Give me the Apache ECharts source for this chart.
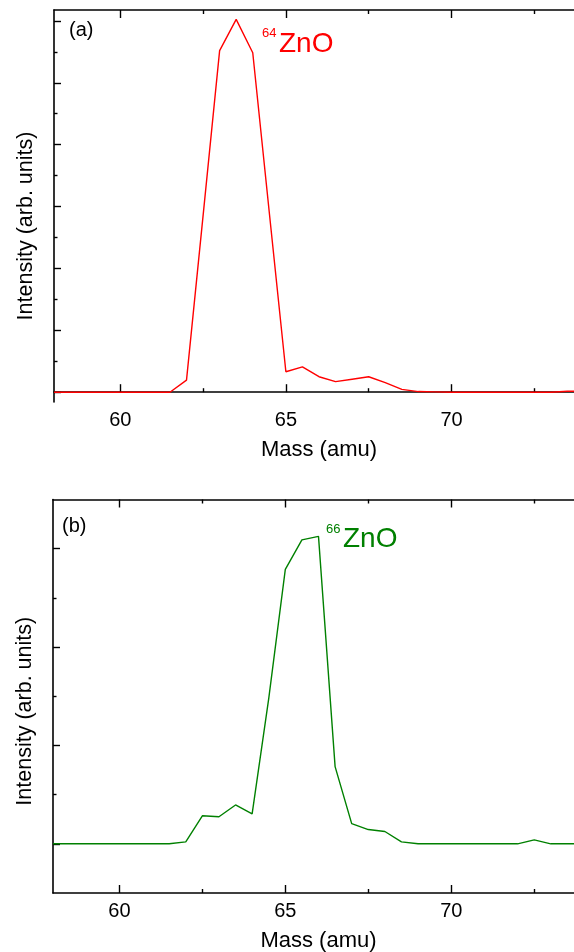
<!DOCTYPE html>
<html>
<head>
<meta charset="utf-8">
<script src="https://cdn.jsdelivr.net/npm/echarts@6/dist/echarts.min.js"></script>
<style>
html,body{margin:0;padding:0;background:#fff;}
#c{width:574px;height:952px;}
</style>
</head>
<body>
<div id="c"></div>
<script>
// ---- data ----
var massA = [58, 58.5, 59, 59.5, 60, 60.5, 61, 61.5, 62, 62.5, 63, 63.5, 64, 64.5, 65, 65.5, 66, 66.5, 67, 67.5, 68, 68.5, 69, 69.5, 70, 70.5, 71, 71.5, 72, 72.5, 73, 73.5, 74];
var intensityA = [0, 0, 0, 0, 0, 0, 0, 0, 0.39, 5.7, 11.04, 12.05, 10.97, 5.8, 0.66, 0.82, 0.50, 0.34, 0.42, 0.50, 0.31, 0.09, 0.02, 0.01, 0, 0, 0, 0, 0, 0, 0, 0.03, 0.03];
var massB = [58, 58.5, 59, 59.5, 60, 60.5, 61, 61.5, 62, 62.5, 63, 63.5, 64, 64.5, 65, 65.5, 66, 66.5, 67, 67.5, 68, 68.5, 69, 69.5, 70, 70.5, 71, 71.5, 72, 72.5, 73, 73.5, 74];
var intensityB = [1, 1, 1, 1, 1, 1, 1, 1, 1.04, 1.57, 1.55, 1.79, 1.61, 3.95, 6.58, 7.18, 7.25, 2.57, 1.41, 1.29, 1.25, 1.04, 1, 1, 1, 1, 1, 1, 1, 1.08, 1, 1, 1];
var xMajorTicks = [60, 65, 70];
var xMinorTicks = [62.5, 67.5, 72.5];
var yMajorTicksA = [0, 2, 4, 6, 8, 10, 12];
var yMinorTicksA = [1, 3, 5, 7, 9, 11];
var yMajorTicksB = [1, 3, 5, 7];
var yMinorTicksB = [2, 4, 6];
var xTitle = 'Mass (amu)';
var yTitle = 'Intensity (arb. units)';
var panelLabels = ['(a)', '(b)'];
var peakLabels = [['64', 'ZnO'], ['66', 'ZnO']];
var colors = ['#ff0000', '#008000'];

function pairs(xs, ys) { return xs.map(function (x, i) { return [x, ys[i]]; }); }

var FONT = 'Liberation Sans, Arial, sans-serif';
var axisLineStyle = { show: true, lineStyle: { color: '#000', width: 1.6 } };

function xAxes(grid, pos, major, withLabels) {
  var base = {
    gridIndex: grid, type: 'value', position: pos, min: 58, max: 74,
    splitLine: { show: false }
  };
  var a = Object.assign({}, base, {
    axisLine: axisLineStyle,
    axisTick: { show: true, inside: true, length: 8, customValues: xMajorTicks, lineStyle: { color: '#000', width: 1.4 } },
    axisLabel: withLabels ? { show: true, customValues: xMajorTicks, color: '#000', fontSize: 20, fontFamily: FONT, margin: 8 } : { show: false }
  });
  if (withLabels) {
    a.name = xTitle; a.nameLocation = 'middle'; a.nameGap = 37;
    a.nameTextStyle = { color: '#000', fontSize: 22, fontFamily: FONT };
  }
  var b = Object.assign({}, base, {
    axisLine: { show: false },
    axisTick: { show: true, inside: true, length: 4, customValues: xMinorTicks, lineStyle: { color: '#000', width: 1.4 } },
    axisLabel: { show: false }
  });
  return [a, b];
}

function yAxes(grid, mn, mx, major, minor, shift) {
  var a = {
    gridIndex: grid, type: 'value', position: 'left', min: mn, max: mx,
    splitLine: { show: false },
    axisLine: axisLineStyle,
    axisTick: { show: true, inside: true, length: 7, customValues: major, lineStyle: { color: '#000', width: 1.4 } },
    axisLabel: { show: false },
    name: yTitle, nameLocation: 'middle', nameGap: 17,
    nameTextStyle: { color: '#000', fontSize: 21.5, fontFamily: FONT, padding: [0, shift, 0, 0] }
  };
  var b = {
    gridIndex: grid, type: 'value', position: 'left', min: mn, max: mx,
    splitLine: { show: false },
    axisLine: { show: false },
    axisTick: { show: true, inside: true, length: 3.5, customValues: minor, lineStyle: { color: '#000', width: 1.4 } },
    axisLabel: { show: false }
  };
  return [a, b];
}

var xs = [].concat(
  xAxes(0, 'bottom', true, true), xAxes(0, 'top', true, false),
  xAxes(1, 'bottom', true, true), xAxes(1, 'top', true, false)
);
var ys = [].concat(
  yAxes(0, -0.317, 12.353, yMajorTicksA, yMinorTicksA, 40),
  yAxes(1, 0, 8, yMajorTicksB, yMinorTicksB, 30)
);

var chart = echarts.init(document.getElementById('c'), null, { renderer: 'canvas' });
chart.setOption({
  animation: false,
  backgroundColor: '#ffffff',
  grid: [
    { left: 54, top: 10, width: 530, height: 392, outerBoundsMode: 'none', containLabel: false },
    { left: 53, top: 499.5, width: 531, height: 393.5, outerBoundsMode: 'none', containLabel: false }
  ],
  xAxis: xs,
  yAxis: ys,
  series: [
    { type: 'line', xAxisIndex: 0, yAxisIndex: 0, data: pairs(massA, intensityA), showSymbol: false,
      lineStyle: { color: colors[0], width: 1.4 }, itemStyle: { color: colors[0] } },
    { type: 'line', xAxisIndex: 4, yAxisIndex: 2, data: pairs(massB, intensityB), showSymbol: false,
      lineStyle: { color: colors[1], width: 1.4 }, itemStyle: { color: colors[1] } }
  ],
  graphic: [
    { type: 'text', x: 69, y: 30, style: { text: panelLabels[0], font: '20px ' + FONT, fill: '#000', verticalAlign: 'middle' } },
    { type: 'text', x: 62, y: 526, style: { text: panelLabels[1], font: '20px ' + FONT, fill: '#000', verticalAlign: 'middle' } },
    { type: 'text', x: 262, y: 33.5, style: { text: peakLabels[0][0], font: '13px ' + FONT, fill: colors[0], verticalAlign: 'middle' } },
    { type: 'text', x: 279, y: 44, style: { text: peakLabels[0][1], font: '28px ' + FONT, fill: colors[0], verticalAlign: 'middle' } },
    { type: 'text', x: 326, y: 529, style: { text: peakLabels[1][0], font: '13px ' + FONT, fill: colors[1], verticalAlign: 'middle' } },
    { type: 'text', x: 343, y: 539, style: { text: peakLabels[1][1], font: '28px ' + FONT, fill: colors[1], verticalAlign: 'middle' } }
  ]
});
</script>
</body>
</html>
